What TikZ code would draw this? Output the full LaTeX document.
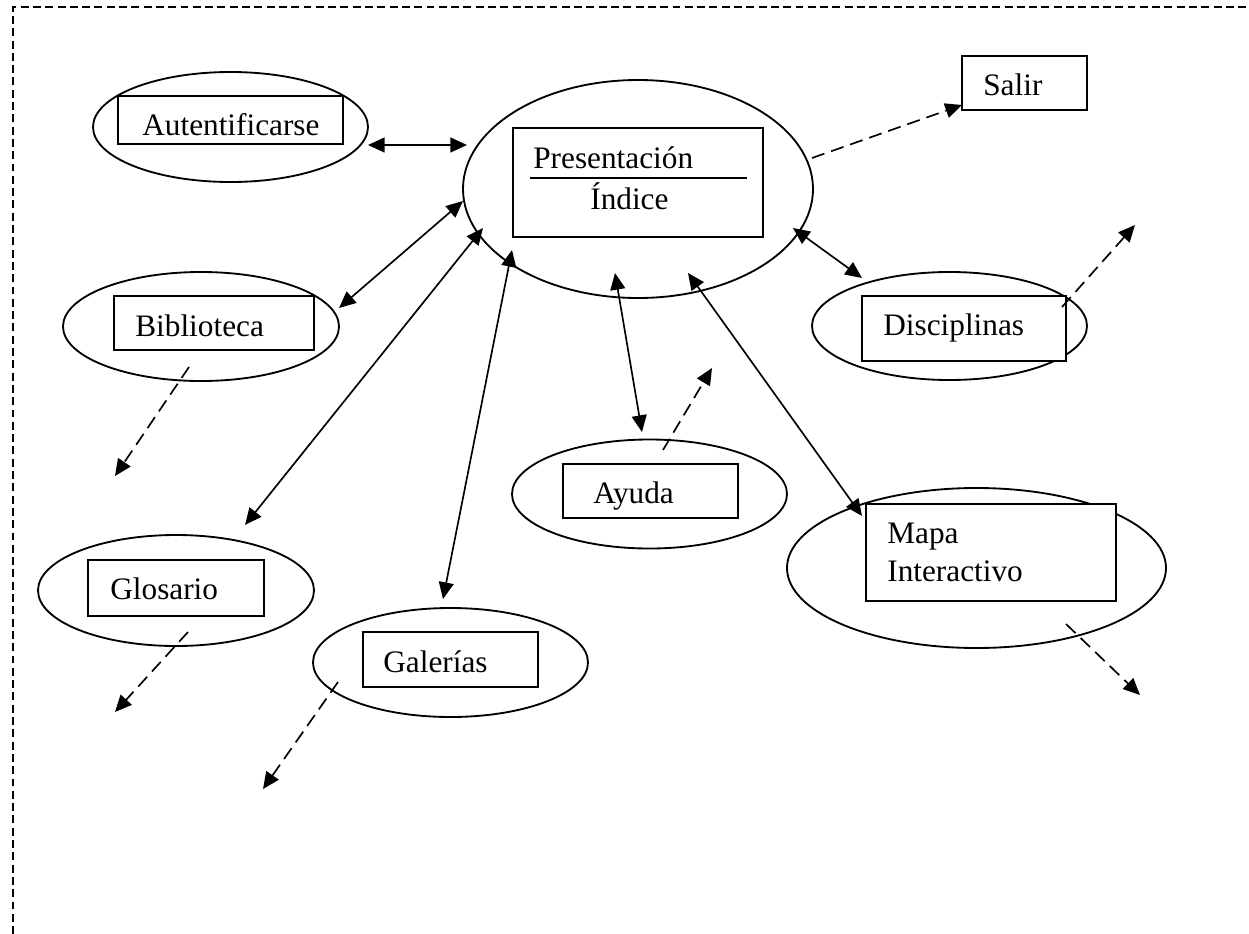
\documentclass[tikz,border=0pt]{standalone}
\usepackage{fontspec}
\setmainfont{Liberation Serif}
\usetikzlibrary{arrows.meta,shapes.geometric}
\begin{document}
\begin{tikzpicture}[x=0.02cm,y=-0.02cm,
  >={Triangle[length=9.5pt,width=8.5pt]},
  sz/.style 2 args={minimum width=#1*0.02cm, minimum height=#2*0.02cm},
  oval/.style={ellipse, draw, line width=1.05pt, inner sep=0pt},
  box/.style={rectangle, draw, fill=white, line width=1.05pt, inner sep=0pt},
  lbl/.style={anchor=base west, inner sep=0pt, font=\fontsize{17.8}{21}\selectfont},
  link/.style={line width=0.95pt, <->},
  exit/.style={line width=0.95pt, dash pattern=on 7.5pt off 4pt, ->},
  frame/.style={line width=1.4pt, dash pattern=on 4.5pt off 2.5pt}]
\useasboundingbox (0,0) rectangle (1249,934);

% page frame
\coordinate (fb) at (13,934);
\coordinate (fc) at (13,7);
\coordinate (fr) at (1249,7);
\draw[frame] (fb) -- (fc) -- (fr);

% ovals
\node[oval, sz={275}{110}] (authO) at (230.5,127) {};
\node[oval, sz={350}{218}] (presO) at (638,189) {};
\node[oval, sz={275}{108}] (discO) at (949.5,326) {};
\node[oval, sz={276}{109}] (bibO)  at (201,326.5) {};
\node[oval, sz={276}{111}] (glosO) at (176,590.5) {};
\node[oval, sz={275}{109}] (galO)  at (450.5,662.5) {};
\node[oval, sz={275}{109}] (ayuO)  at (649.5,494) {};
\node[oval, sz={379}{160}] (mapO)  at (976.5,568) {};

% boxes
\node[box, sz={225}{48}]  (authB) at (230.5,120) {};
\node[box, sz={250}{109}] (presB) at (638,182.5) {};
\node[box, sz={125}{54}]  (salB)  at (1024.5,83) {};
\node[box, sz={204}{65}]  (discB) at (964,328.5) {};
\node[box, sz={200}{54}]  (bibB)  at (214,323) {};
\node[box, sz={176}{56}]  (glosB) at (176,588) {};
\node[box, sz={175}{55}]  (galB)  at (450.5,659.5) {};
\node[box, sz={175}{54}]  (ayuB)  at (650.5,491) {};
\node[box, sz={250}{97}]  (mapB)  at (991,552.5) {};

% labels
\node[lbl] (authT) at (142,135) {Autentificarse};
\node[lbl] (presT) at (533,168) {Presentación};
\coordinate (sepL) at (530,178);
\coordinate (sepR) at (747,178);
\draw[line width=1.05pt] (sepL) -- (sepR);
\node[lbl] (indT)  at (590,209) {Índice};
\node[lbl] (salT)  at (983,95) {Salir};
\node[lbl] (discT) at (883,335) {Disciplinas};
\node[lbl] (bibT)  at (135,336) {Biblioteca};
\node[lbl] (glosT) at (110,599) {Glosario};
\node[lbl] (galT)  at (383,672) {Galerías};
\node[lbl] (ayuT)  at (593,503) {Ayuda};
\node[lbl] (mapT1) at (887,543) {Mapa};
\node[lbl] (mapT2) at (887,581) {Interactivo};

% connector ends
\coordinate (authE) at (368,145);  \coordinate (presA) at (467,145);
\coordinate (bibE)  at (339,308);  \coordinate (presB1) at (463,201);
\coordinate (glosE) at (245,525);  \coordinate (presG) at (483,228);
\coordinate (galE)  at (443,599);  \coordinate (presL) at (512,250);
\coordinate (ayuE)  at (642,432);  \coordinate (presY) at (615,273);
\coordinate (mapE)  at (862,516);  \coordinate (presM) at (688,273);
\coordinate (discE) at (862,278);  \coordinate (presD) at (793,228);

% two-way links to the index
\draw[link] (authE) -- (presA);
\draw[link] (bibE) -- (presB1);
\draw[link] (glosE) -- (presG);
\draw[link] (galE) -- (presL);
\draw[link] (ayuE) -- (presY);
\draw[link] (mapE) -- (presM);
\draw[link] (discE) -- (presD);

% exits
\coordinate (presS) at (812,158);  \coordinate (salE) at (962,105);
\coordinate (discS) at (1062,307); \coordinate (discX) at (1135,225);
\coordinate (bibS)  at (189,367);  \coordinate (bibX)  at (115,476);
\coordinate (glosS) at (188,632);  \coordinate (glosX) at (115,712);
\coordinate (galS)  at (338,682);  \coordinate (galX)  at (263,789);
\coordinate (ayuS)  at (663,450);  \coordinate (ayuX)  at (712,368);
\coordinate (mapS)  at (1066,624); \coordinate (mapX)  at (1140,695);

\draw[exit] (presS) -- (salE);
\draw[exit] (discS) -- (discX);
\draw[exit] (bibS) -- (bibX);
\draw[exit] (glosS) -- (glosX);
\draw[exit] (galS) -- (galX);
\draw[exit] (ayuS) -- (ayuX);
\draw[exit] (mapS) -- (mapX);
\end{tikzpicture}
\end{document}
